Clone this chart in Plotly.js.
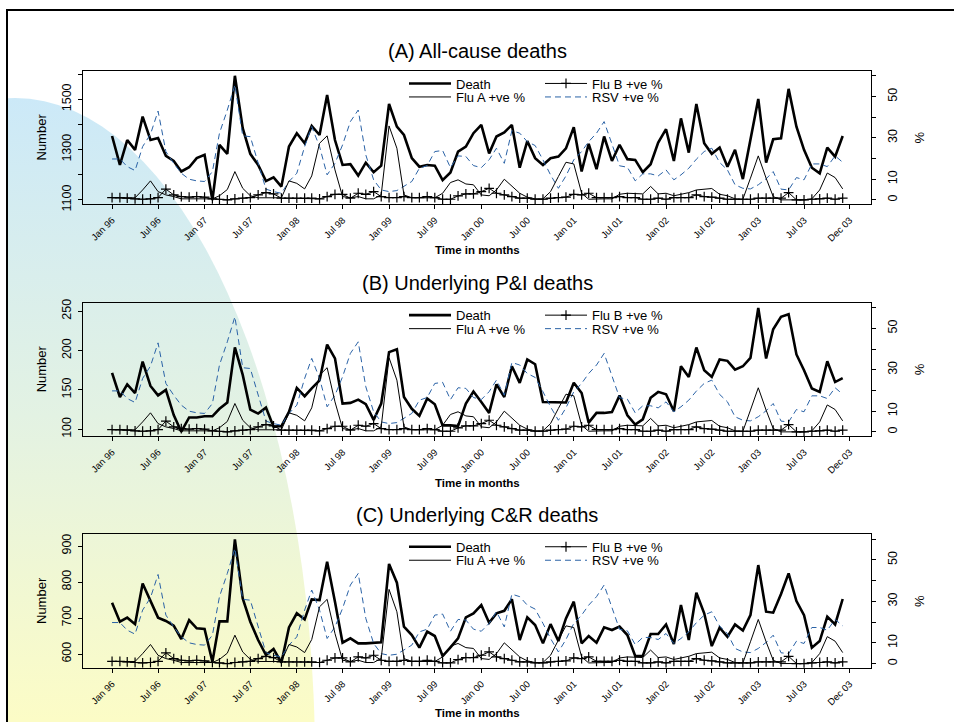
<!DOCTYPE html>
<html>
<head>
<meta charset="utf-8">
<script src="https://cdn.plot.ly/plotly-3.0.1.min.js"></script>
<style>
  html, body { margin: 0; padding: 0; background: #ffffff; }
  #wrap { position: relative; width: 954px; height: 722px; overflow: hidden; background: #ffffff; }
  #frame { position: absolute; left: 6px; top: 9px; width: 960px; height: 730px;
           border-left: 2px solid #000; border-top: 2px solid #000; overflow: hidden; }
  #blob { position: absolute; left: -293px; top: 87px; width: 600px; height: 1324px; border-radius: 50%;
          background: linear-gradient(to bottom, #cce9f8 0%, #e3f2e3 24%, #fcfcc6 47%, #fcfcc4 100%); }
  #chart { position: absolute; left: 0; top: 0; width: 954px; height: 722px; }
</style>
</head>
<body>
<div id="wrap">
  <div id="frame"><div id="blob"></div></div>
  <div id="chart"></div>
</div>
<script>
// ---- Data (monthly, Jan 1996 - Dec 2003) ----
const months = [];
for (let y = 1996; y <= 2003; y++) for (let m = 1; m <= 12; m++) months.push(y + '-' + String(m).padStart(2, '0') + '-01');

const deathAll = [1354,1239,1338,1299,1431,1338,1346,1275,1255,1213,1230,1266,
  1279,1100,1319,1283,1593,1385,1283,1239,1175,1190,1153,1312,
  1365,1325,1394,1358,1517,1338,1239,1242,1197,1248,1210,1236,
  1481,1391,1358,1266,1232,1239,1236,1179,1209,1292,1312,1365,
  1398,1285,1352,1368,1398,1228,1334,1266,1239,1266,1272,1305,
  1389,1213,1323,1222,1352,1255,1319,1262,1259,1210,1242,1328,
  1381,1255,1424,1288,1481,1325,1283,1308,1232,1299,1183,1345,
  1501,1248,1341,1345,1541,1391,1299,1228,1206,1308,1272,1354];

const deathPI = [171.6,141,157,146,186,155,143,150,118,97,115,115,
  116.5,116.5,126,134,204,169,125,120,127.5,103,104,122,
  152.5,142,152,162,207.6,190,132.6,133.5,137.7,131.8,112,132.6,
  198,201.7,141,126,117,139,131.8,105,105,104,132.6,148,
  134.7,120.8,157,141,180,159,188.6,182.6,134.7,134.7,134,134,
  159,146,108.5,120.8,120.8,122,143,117.8,106,112.7,140,147.5,
  144.5,123,180,166.5,203.8,175,166.5,188.6,186.9,175.8,180,190.7,
  254,189.8,227,242.8,246,195,175,151.7,147.5,186.4,160,165];

const deathCR = [742.6,689.8,701,683,796,747,701,691.7,678.7,641.7,694.4,671.3,
  669.4,578.7,690.7,690.7,918.5,754.6,689.8,638.9,597,613.9,576,674,
  713,696,751.9,750,856.5,745,631.5,643.5,629.6,629.6,631.5,632.4,
  850,798,676,652.8,617.6,662,650,594.4,618.5,643.5,701.9,713,
  736,687,713,720,752,639,702,680.6,629.6,683,636,699,
  745.4,629.6,650,631.5,674,666.7,676,652.8,594.4,594.4,655.6,655.6,
  682,627.8,736,639,770,713,622,673,648,682,665,708,
  847,717.6,714.8,766.7,824,747,708,617.6,636,703.7,682,752.8];

const fluA = [1,1,1,1,4.8,9.2,4,2.4,1.6,0.5,0.5,0.5,
  0.5,0.5,2,5,13.7,5.6,2,1,1,1,1,9.2,
  8,5.3,11.6,27.4,31,14.5,1.6,1,1.6,0.5,0.5,2.5,
  35.8,25,2.4,1,1,1,1,3.2,8.4,9.7,7.7,7.3,
  2.4,2,4.8,10,6.5,3.2,1.3,0.5,0.5,4,11.3,18.2,
  17.4,3.2,0.3,0.5,0.5,0.5,2.7,3.2,2.9,2.9,6.5,2.9,
  3.2,2,2.7,3.5,4.8,5.2,5.5,2.7,2,0.5,0.3,10.5,
  21.3,10.5,1.6,0,0,0,0,0.5,4.8,13,10.8,5.3];

const fluB = [1.1,1.1,0.8,0.5,0.3,0.5,1.1,5.2,2.4,1.6,1.3,1.6,
  1.3,0.5,0.3,0,0.5,0.8,1.1,2.4,3.5,2.9,0.8,0.8,
  0.8,0.8,0.8,0.5,1.6,2.7,2.7,0.8,3.2,2.7,4,1.6,
  1.1,1.1,1.6,1.1,1.1,1.6,1.1,0.3,0.3,1.9,2.9,2.9,
  4,5.6,3.2,2.4,1.6,0.8,0.8,0.3,0.3,0.8,1.1,1.3,
  2.7,2.4,3.2,1.1,1.1,1.1,1.6,1.1,1.1,0.3,0.3,0.8,
  0.3,1.1,1.1,1.1,2.4,1.6,1.3,0.8,0.3,0.3,0.3,0.3,
  0.8,0.8,0.8,0.8,3.5,0,0,0.3,0.5,0.8,0.3,0.8];

const rsv = [19.8,19.8,16.1,14.2,25.8,31.8,43,23.4,17.7,12.9,10,9.2,
  8.9,13.7,32.3,43.5,55.6,31,30.6,17.7,5.2,4,3.2,8.9,
  12.9,25.8,35.5,25.8,12.1,17.7,26.6,37.9,43.5,21.8,9.7,4.8,
  4,4.5,6.5,8.9,15.3,16.6,23.4,23.9,15.6,21.3,21,16.6,
  15.6,19.4,25,17.7,33.5,32.3,28.2,26.3,19.4,12.1,5.6,11.6,
  19.4,23.4,28.2,32.3,37.9,27.4,16.5,15.8,9.2,12.6,12.6,11.6,
  14.5,9.7,12.1,15.3,19.7,23.4,25,18.1,14.5,7.3,5.6,5.3,
  7.3,10.2,13.7,5.2,4.8,10.8,9.7,17.4,17.4,16.1,21.3,18.2];

const xTickVals = ['1996-01-01','1996-07-01','1997-01-01','1997-07-01','1998-01-01','1998-07-01',
  '1999-01-01','1999-07-01','2000-01-01','2000-07-01','2001-01-01','2001-07-01','2002-01-01',
  '2002-07-01','2003-01-01','2003-07-01','2003-12-28'];
const xTickText = ['Jan 96','Jul 96','Jan 97','Jul 97','Jan 98','Jul 98','Jan 99','Jul 99','Jan 00',
  'Jul 00','Jan 01','Jul 01','Jan 02','Jul 02','Jan 03','Jul 03','Dec 03'];

const panelTitles = ['(A) All-cause deaths', '(B) Underlying P&I deaths', '(C) Underlying C&R deaths'];
const seriesNames = ['Death', 'Flu A +ve %', 'Flu B +ve %', 'RSV +ve %'];
const pctTickVals = [0,10,20,30,40,50,60];
const pctTickText = ['0','10','','30','','50',''];
const leftTicks = [
  {vals: [1100,1200,1300,1400,1500,1600], text: ['1100','','1300','','1500',''], range: [1084, 1612]},
  {vals: [100,150,200,250], text: ['100','150','200','250'], range: [91.5, 260.7]},
  {vals: [600,700,800,900], text: ['600','700','800','900'], range: [562, 932.5]}
];
const deaths = [deathAll, deathPI, deathCR];

// ---- Layout geometry (pixels) ----
const W = 954, H = 722;
const FONT = 'Liberation Sans, Arial, Helvetica, sans-serif';
const plotL = 83, plotR = 871;
const panelTop = [71, 302.7, 534.3], panelBot = [204, 436, 667.7];
const titleY = [51, 283, 515];
const xlabY = [250, 482.7, 713];
const px = v => v / W, py = v => 1 - v / H;

const traces = [];
const layout = {
  width: W, height: H,
  margin: {l: 0, r: 0, t: 0, b: 0, pad: 0},
  paper_bgcolor: 'rgba(0,0,0,0)', plot_bgcolor: 'rgba(0,0,0,0)',
  font: {family: FONT, color: '#000', size: 12},
  showlegend: true,
  annotations: [], shapes: []
};

for (let p = 0; p < 3; p++) {
  const xa = p === 0 ? 'x' : 'x' + (p + 1);
  const yl = p === 0 ? 'y' : 'y' + (2 * p + 1);
  const yr = 'y' + (2 * p + 2);
  const xKey = p === 0 ? 'xaxis' : 'xaxis' + (p + 1);
  const ylKey = p === 0 ? 'yaxis' : 'yaxis' + (2 * p + 1);
  const yrKey = 'yaxis' + (2 * p + 2);
  const dom = [py(panelBot[p]), py(panelTop[p])];

  layout[xKey] = {
    type: 'date', domain: [px(plotL), px(plotR)], anchor: yl,
    range: ['1995-09-08', '2004-03-22'],
    tickmode: 'array', tickvals: xTickVals, ticktext: xTickText,
    tickangle: -45, tickfont: {size: 9.5, family: FONT},
    ticks: 'outside', ticklen: 4, tickwidth: 1, tickcolor: '#000', ticklabelstandoff: 2,
    showline: true, mirror: true, linecolor: '#000', linewidth: 1,
    showgrid: false, zeroline: false, automargin: false, fixedrange: true
  };
  layout[ylKey] = {
    domain: dom, anchor: xa, range: leftTicks[p].range,
    tickmode: 'array', tickvals: leftTicks[p].vals, ticktext: leftTicks[p].text,
    tickangle: -90, tickfont: {size: 12.5, family: FONT},
    ticks: 'outside', ticklen: 4, tickwidth: 1, tickcolor: '#000', ticklabelstandoff: 2,
    showline: true, mirror: true, linecolor: '#000', linewidth: 1,
    showgrid: false, zeroline: false, automargin: false, fixedrange: true
  };
  layout[yrKey] = {
    overlaying: yl, side: 'right', anchor: xa, range: [-2, 62.4],
    tickmode: 'array', tickvals: pctTickVals, ticktext: pctTickText,
    tickangle: -90, tickfont: {size: 12.5, family: FONT},
    ticks: 'outside', ticklen: 4, tickwidth: 1, tickcolor: '#000', ticklabelstandoff: 6,
    showline: false, showgrid: false, zeroline: false, automargin: false, fixedrange: true
  };

  const lg = k => { const n = p * 4 + k + 1; return n === 1 ? 'legend' : 'legend' + n; };
  traces.push({type: 'scatter', mode: 'lines', name: seriesNames[3], x: months, y: rsv, xaxis: xa, yaxis: yr,
    line: {color: '#2a62a6', width: 1, dash: '6px,4px'}, legend: lg(3)});
  traces.push({type: 'scatter', mode: 'lines', name: seriesNames[1], x: months, y: fluA, xaxis: xa, yaxis: yr,
    line: {color: '#000', width: 1}, legend: lg(1)});
  traces.push({type: 'scatter', mode: 'lines+markers', name: seriesNames[2], x: months, y: fluB, xaxis: xa, yaxis: yr,
    line: {color: '#000', width: 1},
    marker: {symbol: 'cross-thin', size: 7, color: '#000', line: {color: '#000', width: 1.2}}, legend: lg(2)});
  traces.push({type: 'scatter', mode: 'lines', name: seriesNames[0], x: months, y: deaths[p], xaxis: xa, yaxis: yl,
    line: {color: '#000', width: 2.6}, legend: lg(0)});

  // legends: two columns, two rows, each entry its own legend box
  const rowY = [panelTop[p] + 12.5, panelTop[p] + 26];
  const colX = [404, 540];
  const pos = [[0, 0], [0, 1], [1, 0], [1, 1]]; // Death, FluA, FluB, RSV
  for (let k = 0; k < 4; k++) {
    layout[lg(k)] = {
      x: px(colX[pos[k][0]]), y: py(rowY[pos[k][1]]), xanchor: 'left', yanchor: 'middle',
      bgcolor: 'rgba(0,0,0,0)', borderwidth: 0, font: {size: 13, family: FONT, color: '#000'},
      itemwidth: 42, itemclick: false, itemdoubleclick: false
    };
  }

  layout.annotations.push({text: panelTitles[p], xref: 'paper', yref: 'paper', x: 0.5, y: py(titleY[p]),
    xanchor: 'center', yanchor: 'middle', showarrow: false, font: {size: 20, family: FONT, color: '#000'}});
  layout.annotations.push({text: '<b>Time in months</b>', xref: 'paper', yref: 'paper', x: px(477), y: py(xlabY[p]),
    xanchor: 'center', yanchor: 'middle', showarrow: false, font: {size: 11.5, family: FONT, color: '#000'}});
  const midY = (panelTop[p] + panelBot[p]) / 2;
  layout.annotations.push({text: 'Number', xref: 'paper', yref: 'paper', x: px(41), y: py(midY),
    xanchor: 'center', yanchor: 'middle', textangle: -90, showarrow: false, font: {size: 13, family: FONT, color: '#000'}});
  layout.annotations.push({text: '%', xref: 'paper', yref: 'paper', x: px(919), y: py(midY),
    xanchor: 'center', yanchor: 'middle', textangle: -90, showarrow: false, font: {size: 13, family: FONT, color: '#000'}});
}

Plotly.newPlot('chart', traces, layout, {displayModeBar: false, staticPlot: true});
</script>
</body>
</html>
